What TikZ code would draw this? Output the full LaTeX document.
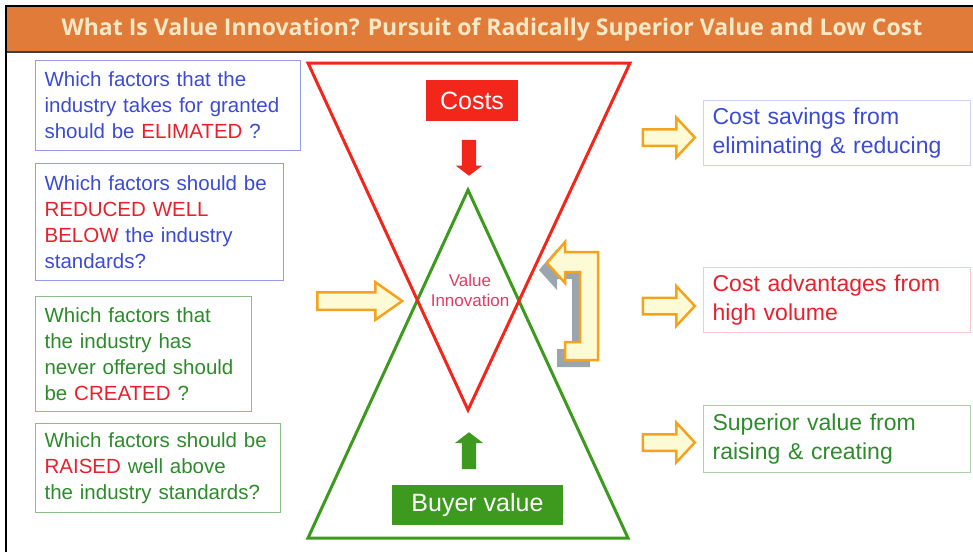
\documentclass[tikz,border=0pt]{standalone}
\usepackage{fontspec}
\setmainfont{Liberation Sans}
\newfontfamily\titlefont{Open Sans}
\usetikzlibrary{shapes.arrows}

\definecolor{banner}{HTML}{E07B39}
\definecolor{bannertext}{HTML}{F7E9C6}
\definecolor{costred}{HTML}{F2261B}
\definecolor{valgreen}{HTML}{3D9A1F}
\definecolor{qblue}{HTML}{3B4BD4}
\definecolor{qgreen}{HTML}{2D8B2B}
\definecolor{qred}{HTML}{E9202C}
\definecolor{vired}{HTML}{E33A63}
\definecolor{arrowline}{HTML}{F5A31C}
\definecolor{arrowfill}{HTML}{FDFBD6}
\definecolor{shadowgrey}{HTML}{9AA5AE}

\newcommand{\keyword}[1]{\textcolor{qred}{#1}}

\tikzset{
  question/.style={draw, line width=1.2pt, anchor=north west, align=left,
    inner xsep=9pt, inner ysep=0pt, font=\fontsize{20.5}{26}\selectfont},
  outcome/.style={draw, line width=1.2pt, anchor=north west, align=left,
    inner xsep=9pt, inner ysep=0pt, minimum width=267, text width=249,
    font=\fontsize{23}{29}\selectfont},
  hollow/.style={single arrow, draw=arrowline, fill=arrowfill, line width=2.5pt,
    inner xsep=0pt},
  label box/.style={inner sep=0pt, text=white, font=\fontsize{25}{30}\selectfont},
  bent shadow/.style={fill=shadowgrey, shift={(-8,7)}},
  bent body/.style={fill=arrowfill, draw=arrowline, line width=2.5pt}
}

\begin{document}
\begin{tikzpicture}[x=1pt, y=-1pt]
  \useasboundingbox (0,0) rectangle (973,552);

  % frame and banner
  \fill[banner] (7,7) rectangle (973,52);
  \draw[line width=1.2pt, black!75] (7,52) -- (973,52);
  \draw[line width=1.5pt] (6,552) -- (6,6) -- (973,6);
  \node[text=bannertext, font=\titlefont\bfseries\fontsize{23}{28}\selectfont] (title) at (492,29.5)
    {What Is Value Innovation? Pursuit of Radically Superior Value and Low Cost};

  % the two triangles
  \draw[valgreen, line width=3pt, line join=miter] (308,538) -- (628,538) -- (468,190) -- cycle;
  \draw[costred, line width=3pt, line join=miter] (308,63) -- (630,63) -- (468,410) -- cycle;

  \node[text=vired, align=center, font=\fontsize{17}{20}\selectfont] (vi) at (470,290) {Value\\Innovation};

  \node[label box, fill=costred, minimum width=92, minimum height=41] (costs) at (472,100.5) {Costs};
  \node[label box, fill=valgreen, minimum width=171, minimum height=40] (buyer) at (477.5,505) {Buyer value};
  \node[single arrow, fill=costred, inner xsep=0pt, inner ysep=7pt, minimum height=36,
    single arrow head extend=6, single arrow tip angle=105, rotate=-90] (costsdown) at (469,155) {};
  \node[single arrow, fill=valgreen, inner xsep=0pt, inner ysep=7pt, minimum height=37,
    single arrow head extend=7, single arrow tip angle=105, rotate=90] (buyerup) at (469,453.5) {};

  % four questions
  \node[question, draw=qblue!55, text=qblue, minimum width=265, text width=247, minimum height=90] (elim) at (35,60)
    {Which factors that the\\industry takes for granted\\should be \keyword{ELIMATED} ?};
  \node[question, draw=qblue!55, text=qblue, minimum width=248, text width=230, minimum height=117] (reduce) at (35,163)
    {Which factors should be\\\keyword{REDUCED WELL}\\\keyword{BELOW} the industry\\standards?};
  \node[question, draw=qgreen!55, text=qgreen, minimum width=216, text width=198, minimum height=115] (create) at (35,296)
    {Which factors that\\the industry has\\never offered should\\be \keyword{CREATED} ?};
  \node[question, draw=qgreen!55, text=qgreen, minimum width=245, text width=227, minimum height=89] (raise) at (35,423)
    {Which factors should be\\\keyword{RAISED} well above\\the industry standards?};

  \node[hollow, inner ysep=7.5pt, minimum height=85, single arrow head extend=10,
    single arrow tip angle=70] (into) at (353.5,301) {};

  % bent arrow with its shadow
  \foreach \sty in {bent shadow, bent body}
    \path[\sty, line join=miter]
      (598,252) -- (598,360) -- (565,360) -- (565,342) -- (580,342) -- (580,272)
      -- (565,272) -- (565,283) -- (547,263) -- (565,242) -- (565,252) -- cycle;

  % three outcomes
  \node[outcome, draw=qblue!25, text=qblue, minimum height=65] (savings) at (703,100)
    {Cost savings from\\eliminating \& reducing};
  \node[outcome, draw=qred!25, text=qred, minimum height=65] (volume) at (703,267)
    {Cost advantages from\\high volume};
  \node[outcome, draw=qgreen!40, text=qgreen, minimum height=67] (superior) at (703,405)
    {Superior value from\\raising \& creating};

  \foreach \y/\name in {137.5/a, 306/b, 442.5/c}
    \node[hollow, inner ysep=7pt, minimum height=52, single arrow head extend=11.5,
      single arrow tip angle=94] (out\name) at (665,\y) {};
\end{tikzpicture}
\end{document}
